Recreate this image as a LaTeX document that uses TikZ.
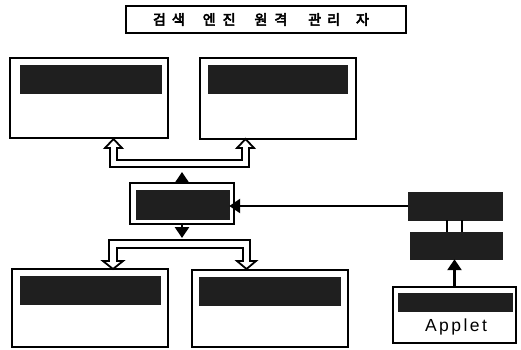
\documentclass[tikz,border=0pt]{standalone}
\usepackage{fontspec}
\newfontfamily\kr[FakeBold=4]{Noto Sans CJK KR}
\newfontfamily\lsans[LetterSpace=14]{Liberation Sans}
\usetikzlibrary{arrows.meta,calc}
\tikzset{
  frame/.style={draw=black, line width=2pt, fill=white, inner sep=0pt},
  bar/.style={fill=black!88, draw=black!88, line width=0.4pt, inner sep=0pt},
  pipe/.style={draw=black, line width=1.8pt, fill=white, line join=miter},
  solidarrow/.style={line width=2.6pt, -{Triangle[width=14pt,length=11pt]}},
  link/.style={line width=2pt}
}
\begin{document}
\begin{tikzpicture}[x=1pt,y=-1pt]
\useasboundingbox (0,0) rectangle (521,349);
% title
\node[frame, line width=1.6pt, minimum width=280pt, minimum height=27pt] (title) at (266,19.5) {};
\node[inner sep=0pt, font=\kr\fontsize{14}{14}\selectfont] (titletext) at (261,19.5)
  {검\hspace{6pt}색\hspace{18pt}엔\hspace{7pt}진\hspace{19pt}원\hspace{7pt}격\hspace{21pt}관\hspace{6pt}리\hspace{16pt}자};
% upper boxes
\node[frame, minimum width=158pt, minimum height=80pt] (tl) at (89,98) {};
\node[bar, minimum width=141pt, minimum height=28pt] (tlbar) at (90.5,79) {};
\node[frame, minimum width=156pt, minimum height=81pt] (tr) at (278,98.5) {};
\node[bar, minimum width=139pt, minimum height=28pt] (trbar) at (277.5,79) {};
% middle
\node[frame, minimum width=104pt, minimum height=41pt] (mid) at (182,203.5) {};
\node[bar, minimum width=93pt, minimum height=29pt] (midbar) at (182.5,204.5) {};
% lower boxes
\node[frame, minimum width=156pt, minimum height=78pt] (bl) at (90,308) {};
\node[bar, minimum width=140pt, minimum height=28pt] (blbar) at (90,290) {};
\node[frame, minimum width=156pt, minimum height=77pt] (br) at (270,308.5) {};
\node[bar, minimum width=141pt, minimum height=28pt] (brbar) at (269.5,291) {};
% right side
\node[bar, minimum width=94pt, minimum height=28pt] (r1) at (455,206) {};
\node[bar, minimum width=92pt, minimum height=27pt] (r2) at (456,245.5) {};
\node[frame, minimum width=123pt, minimum height=56pt] (app) at (454.5,315) {};
\node[bar, minimum width=114pt, minimum height=18pt] (appbar) at (455,302) {};
\node[inner sep=0pt, font=\lsans\fontsize{17.5}{17.5}\selectfont] (applet) at (456,327) {Applet};
% hollow pipes
\coordinate (uptipL) at (113.5,139);
\coordinate (uptipR) at (245.5,139);
\path[pipe] (uptipL) -- (122,148) -- (117,148) -- (117,160) -- (242,160) -- (242,148) -- (237,148)
  -- (uptipR) -- (254,148) -- (249,148) -- (249,167) -- (110,167) -- (110,148) -- (105,148) -- cycle;
\coordinate (lotipL) at (113,269);
\coordinate (lotipR) at (246.5,269);
\path[pipe] (109,240) -- (250,240) -- (250,261) -- (256,261) -- (lotipR) -- (237,261) -- (243,261)
  -- (243,248) -- (117,248) -- (117,261) -- (123,261) -- (lotipL) -- (103,261) -- (109,261) -- cycle;
% solid arrows
\coordinate (upend) at (182,172);
\coordinate (downend) at (182,238);
\draw[solidarrow] (mid.north) -- (upend);
\draw[solidarrow] (mid.south) -- (downend);
\draw[solidarrow] (r1.west) -- (midbar.east |- r1.west);
\draw[solidarrow] (app.north) -- (app.north |- r2.south);
\draw[link] ([xshift=-8pt]r1.south) -- ([xshift=-8pt]r1.south |- r2.north);
\draw[link] ([xshift=7pt]r1.south) -- ([xshift=7pt]r1.south |- r2.north);
\end{tikzpicture}
\end{document}
